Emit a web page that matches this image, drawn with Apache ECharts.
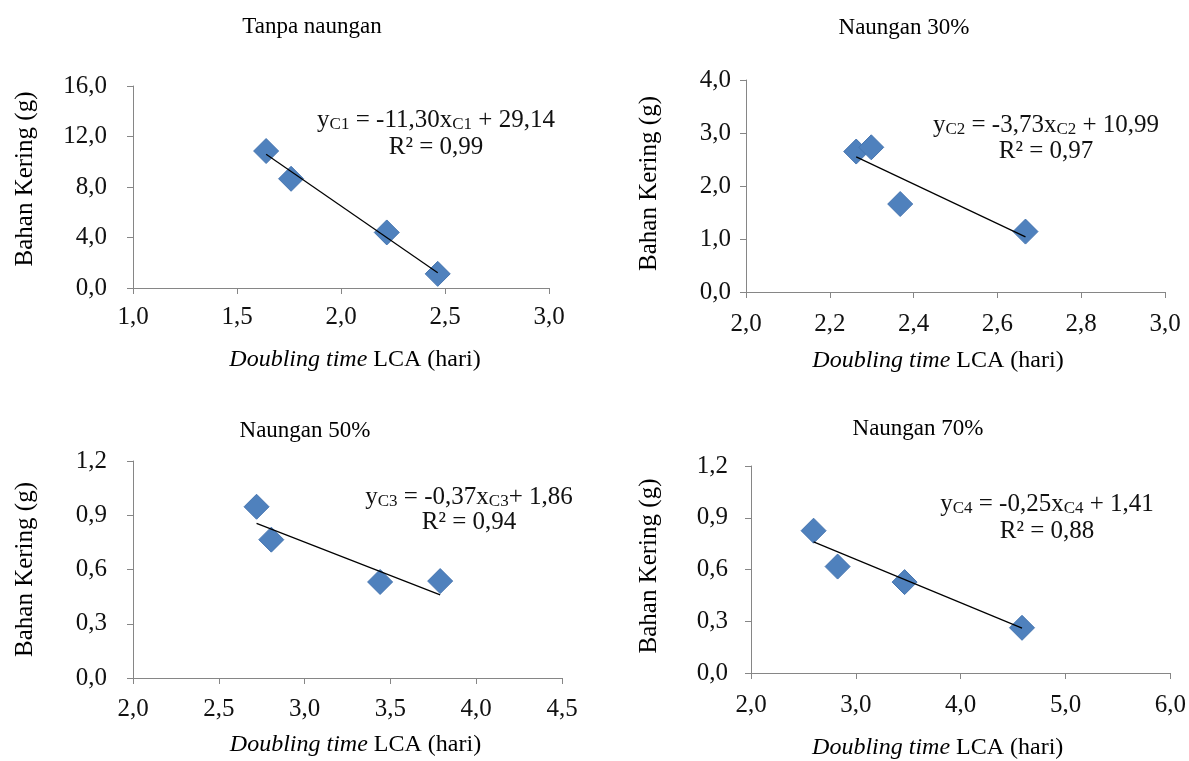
<!DOCTYPE html>
<html><head><meta charset="utf-8">
<script src="https://cdn.jsdelivr.net/npm/echarts@6/dist/echarts.min.js"></script>
<style>html,body{margin:0;padding:0;background:#fff}#c{width:1189px;height:761px}</style>
</head><body><div id="c"></div>
<script>
// ---- data ----
const panelTitles = ['Tanpa naungan', 'Naungan 30%', 'Naungan 50%', 'Naungan 70%'];
const x1 = [1.64, 1.76, 2.22, 2.465];
const y1 = [10.85, 8.65, 4.4, 1.12];
const x2 = [2.263, 2.299, 2.368, 2.667];
const y2 = [2.65, 2.73, 1.66, 1.14];
const x3 = [2.72, 2.806, 3.44, 3.79];
const y3 = [0.947, 0.765, 0.531, 0.536];
const x4 = [2.597, 2.826, 3.465, 4.585];
const y4 = [0.825, 0.617, 0.527, 0.262];
// trendline end points
const t1X = [1.64, 2.465];  const t1Y = [10.6, 1.2];
const t2X = [2.263, 2.667]; const t2Y = [2.55, 1.04];
const t3X = [2.72, 3.79];   const t3Y = [0.855, 0.46];
const t4X = [2.597, 4.585]; const t4Y = [0.76, 0.26];
// equation texts
const eqSub = ['C1', 'C2', 'C3', 'C4'];
const eqSlope = ['-11,30', '-3,73', '-0,37', '-0,25'];
const eqJoin = [' + ', ' + ', '+ ', ' + '];
const eqIntercept = ['29,14', '10,99', '1,86', '1,41'];
const eqR2 = ['0,99', '0,97', '0,94', '0,88'];
// axes
const xMin = [1, 2, 2, 2];
const xMax = [3, 3, 4.5, 6];
const xStep = [0.5, 0.2, 0.5, 1];
const yMin = [0, 0, 0, 0];
const yMax = [16, 4, 1.2, 1.2];
const yStep = [4, 1, 0.3, 0.3];
const yAxisTitle = 'Bahan Kering (g)';
const xAxisTitleItalic = 'Doubling time';
const xAxisTitleRest = ' LCA (hari)';

// ---- layout / styling ----
const FONT = '"Liberation Serif","Times New Roman",serif';
const grids = [
  {left: 133, top: 86, width: 416, height: 202},
  {left: 746, top: 80, width: 419, height: 212},
  {left: 133, top: 461, width: 429, height: 217},
  {left: 751, top: 466, width: 424, height: 210}
];
const titlePos = [[312, 15], [904, 16], [305, 419], [918, 417]];
const eqPos = [[436, 120, 147], [1046, 125, 151], [469, 497, 522], [1047, 504, 531]];
const yLabelMargin = [26, 15, 26, 23];
const xLabelMargin = [17, 20, 19, 20];
const yNameGap = [95, 84, 95, 89];
const yNamePad = [[0, 0, 0, 16], [0, 0, 0, 5], [0, 0, 0, 0], [0, 0, 0, 7]];
const xNameGap = [60, 57, 55, 63];
const xNamePad = [[0, 0, 0, 28], [0, 35, 0, 0], [0, 0, 0, 16], [0, 46, 0, 0]];

const xs = [x1, x2, x3, x4], ys = [y1, y2, y3, y4];
const txs = [t1X, t2X, t3X, t4X], tys = [t1Y, t2Y, t3Y, t4Y];
const fmt = v => (Math.round(v * 10) / 10).toFixed(1).replace('.', ',');
const axisGray = '#868686';

const option = {
  backgroundColor: '#fff',
  animation: false,
  title: panelTitles.map((t, i) => ({
    text: t, left: titlePos[i][0], top: titlePos[i][1], textAlign: 'center', padding: 0,
    textStyle: {fontFamily: FONT, fontSize: 23, fontWeight: 'normal', color: '#000'}
  })),
  grid: grids,
  xAxis: grids.map((g, i) => ({
    type: 'value', gridIndex: i, min: xMin[i], max: xMax[i], interval: xStep[i],
    name: '{i|' + xAxisTitleItalic + '}{n|' + xAxisTitleRest + '}',
    nameLocation: 'middle', nameGap: xNameGap[i],
    nameTextStyle: {
      padding: xNamePad[i], lineHeight: 24,
      rich: {
        i: {fontFamily: FONT, fontSize: 24, fontStyle: 'italic', color: '#000', lineHeight: 24},
        n: {fontFamily: FONT, fontSize: 24, color: '#000', lineHeight: 24}
      }
    },
    axisLine: {show: true, lineStyle: {color: axisGray, width: 1}},
    axisTick: {show: true, inside: false, length: 6, lineStyle: {color: axisGray}},
    splitLine: {show: false},
    axisLabel: {formatter: fmt, margin: xLabelMargin[i], fontFamily: FONT, fontSize: 25, color: '#111',
      showMinLabel: true, showMaxLabel: true, hideOverlap: false}
  })),
  yAxis: grids.map((g, i) => ({
    type: 'value', gridIndex: i, min: yMin[i], max: yMax[i], interval: yStep[i],
    name: yAxisTitle, nameLocation: 'middle', nameGap: yNameGap[i], nameRotate: 90,
    nameTextStyle: {fontFamily: FONT, fontSize: 25, color: '#000', padding: yNamePad[i]},
    axisLine: {show: true, lineStyle: {color: axisGray, width: 1}},
    axisTick: {show: true, inside: false, length: 6, lineStyle: {color: axisGray}},
    splitLine: {show: false},
    axisLabel: {formatter: fmt, margin: yLabelMargin[i], fontFamily: FONT, fontSize: 25, color: '#111',
      showMinLabel: true, showMaxLabel: true}
  })),
  series: [].concat(
    xs.map((xv, i) => ({
      type: 'scatter', xAxisIndex: i, yAxisIndex: i, symbol: 'diamond', symbolSize: 25,
      itemStyle: {color: '#4F81BD', borderColor: '#4675B0', borderWidth: 1, opacity: 1},
      data: xv.map((x, k) => [x, ys[i][k]]), z: 2
    })),
    txs.map((tx, i) => ({
      type: 'line', xAxisIndex: i, yAxisIndex: i, showSymbol: false, symbol: 'none',
      lineStyle: {color: '#000', width: 1.2}, data: tx.map((x, k) => [x, tys[i][k]]), z: 3
    }))
  ),
  graphic: eqSub.map((s, i) => ({
    type: 'group', children: [
      {type: 'text', x: eqPos[i][0], y: eqPos[i][1], style: {
        text: '{m|y}{s|' + s + '}{m| = ' + eqSlope[i] + 'x}{s|' + s + '}{m|' + eqJoin[i] + eqIntercept[i] + '}',
        align: 'center', verticalAlign: 'middle',
        rich: {
          m: {fontFamily: FONT, fontSize: 25, fill: '#111', lineHeight: 26},
          s: {fontFamily: FONT, fontSize: 17, fill: '#111', lineHeight: 17, verticalAlign: 'bottom'}
        }
      }},
      {type: 'text', x: eqPos[i][0], y: eqPos[i][2], style: {
        text: 'R² = ' + eqR2[i], align: 'center', verticalAlign: 'middle',
        font: '25px ' + FONT, fill: '#111'
      }}
    ]
  }))
};
const chart = echarts.init(document.getElementById('c'), null, {renderer: 'canvas'});
chart.setOption(option);
</script></body></html>
